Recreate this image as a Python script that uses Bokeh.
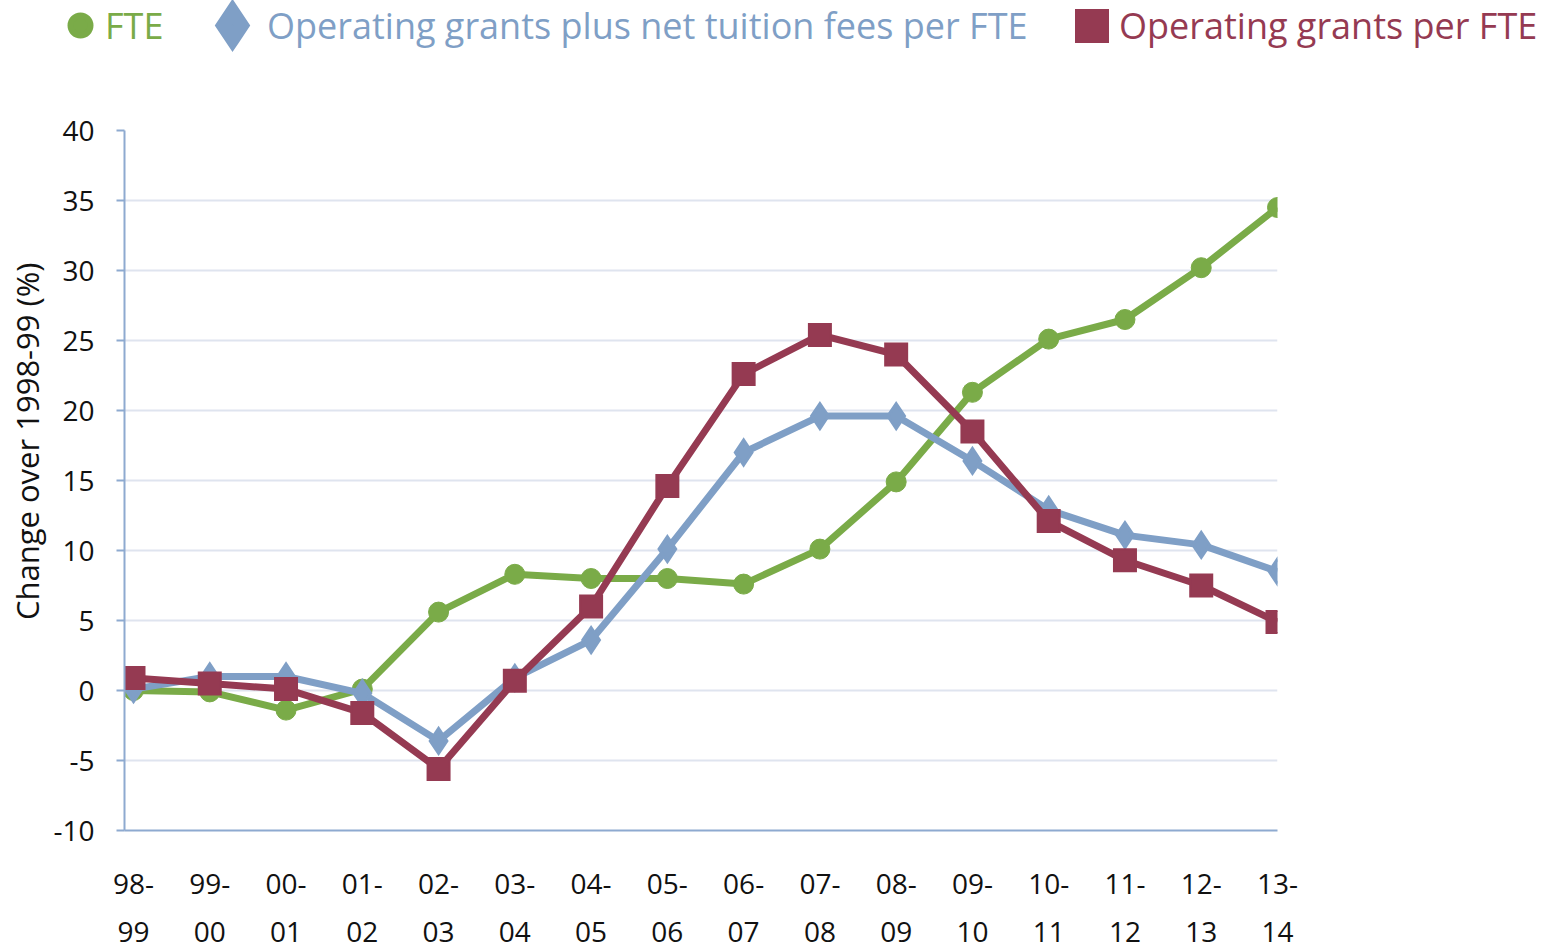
from bokeh.plotting import figure
from bokeh.layouts import column, row
from bokeh.models import Range1d, Legend, LegendItem, FixedTicker, Title
from bokeh.embed import file_html
from bokeh.resources import INLINE

years = ["98-99", "99-00", "00-01", "01-02", "02-03", "03-04", "04-05", "05-06",
         "06-07", "07-08", "08-09", "09-10", "10-11", "11-12", "12-13", "13-14"]
fte = [0.0, -0.1, -1.4, 0.1, 5.6, 8.3, 8.0, 8.0, 7.6, 10.1, 14.9, 21.3, 25.1, 26.5, 30.2, 34.5]
grants_tuition = [0.1, 1.0, 1.0, -0.2, -3.6, 0.9, 3.6, 10.1, 17.0, 19.6, 19.6, 16.4, 12.9, 11.1, 10.4, 8.5]
grants = [0.9, 0.5, 0.1, -1.6, -5.6, 0.7, 6.0, 14.6, 22.6, 25.4, 24.0, 18.5, 12.1, 9.3, 7.5, 4.9]
y_ticks = [-10, -5, 0, 5, 10, 15, 20, 25, 30, 35, 40]
series_names = ["FTE", "Operating grants plus net tuition fees per FTE", "Operating grants per FTE"]

GREEN = "#7aab48"
BLUE = "#7f9fc6"
MAROON = "#953a52"
AXIS = "#8eaad0"
GRID = "#dfe4ef"
FONT = "Open Sans"

xs = list(range(len(years)))

# ---------------- main chart ----------------
p = figure(width=1546, height=842, output_backend="svg", toolbar_location=None,
           x_range=Range1d(-0.118, 15), y_range=Range1d(-10, 40),
           min_border_left=124, min_border_right=269, min_border_top=20, min_border_bottom=122)
p.outline_line_color = None
p.background_fill_color = "white"
p.border_fill_color = "white"

p.xgrid.grid_line_color = None
p.ygrid.grid_line_color = GRID
p.ygrid.grid_line_width = 2

p.yaxis.ticker = FixedTicker(ticks=y_ticks)
p.yaxis.major_label_overrides = {t: str(t) for t in y_ticks}
p.yaxis.axis_line_color = AXIS
p.yaxis.axis_line_width = 2
p.yaxis.major_tick_line_color = AXIS
p.yaxis.major_tick_line_width = 2
p.yaxis.major_tick_out = 8
p.yaxis.major_tick_in = 0
p.yaxis.minor_tick_line_color = None
p.yaxis.major_label_standoff = 22
p.yaxis.major_label_text_font = FONT
p.yaxis.major_label_text_font_size = "28px"
p.yaxis.major_label_text_color = "#111111"

p.xaxis.ticker = FixedTicker(ticks=xs)
p.xaxis.major_label_overrides = {i: y.replace("-", "-\n") for i, y in enumerate(years)}
p.xaxis.axis_line_color = AXIS
p.xaxis.axis_line_width = 2
p.xaxis.major_tick_line_color = None
p.xaxis.minor_tick_line_color = None
p.xaxis.major_tick_out = 0
p.xaxis.major_tick_in = 0
p.xaxis.major_label_standoff = 33
p.xaxis.major_label_text_font = FONT
p.xaxis.major_label_text_font_size = "28px"
p.xaxis.major_label_text_color = "#111111"
p.xaxis.major_label_text_line_height = 1.27

p.add_layout(Title(text="Change over 1998-99 (%)", align="right", offset=132, standoff=6,
                   text_font=FONT, text_font_size="31px", text_font_style="normal",
                   text_color="#111111"), "left")

p.line(xs, fte, line_color=GREEN, line_width=7)
p.scatter(xs, fte, marker="circle", size=20, fill_color=GREEN, line_color=GREEN)
p.line(xs, grants_tuition, line_color=BLUE, line_width=7)
p.scatter(xs, grants_tuition, marker="diamond", size=25, fill_color=BLUE, line_color=BLUE,
          line_width=3, line_join="miter")
p.line(xs, grants, line_color=MAROON, line_width=7)
p.scatter(xs, grants, marker="square", size=22, fill_color=MAROON, line_color=MAROON,
          line_width=2, line_join="miter")

# ---------------- legend strip ----------------
# legend proxies: same series, but the strip's ranges keep the points off-screen
lg = figure(width=1546, height=110, output_backend="svg", toolbar_location=None,
            x_axis_location=None, y_axis_location=None, min_border=0,
            x_range=Range1d(100, 101), y_range=Range1d(100, 101))
lg.outline_line_color = None
lg.grid.grid_line_color = None
lg.border_fill_color = "white"
lg.background_fill_color = "white"

k_fte = lg.scatter(xs, fte, marker="circle", fill_color=GREEN, line_color=GREEN, line_width=6)
k_gt = lg.scatter(xs, grants_tuition, marker="diamond", fill_color=BLUE, line_color=BLUE,
                  line_width=14, line_join="miter")
k_g = lg.scatter(xs, grants, marker="square", fill_color=MAROON, line_color=MAROON,
                 line_width=12, line_join="miter")


def make_legend(label, renderer, color, box, loc):
    leg = Legend(items=[LegendItem(label=label, renderers=[renderer], index=0)],
                 location=loc, orientation="horizontal",
                 glyph_width=box, glyph_height=box, label_standoff=0,
                 padding=0, margin=0, spacing=0,
                 border_line_color=None, background_fill_alpha=0,
                 label_text_color=color, label_text_font=FONT,
                 label_text_font_size="36px")
    lg.add_layout(leg, "center")


# (x of glyph box left, y of legend bottom) within the strip, y measured from the strip's bottom
make_legend(series_names[0], k_fte, GREEN, 50, (55, 60))
make_legend(series_names[1], k_gt, BLUE, 70, (197, 50))
make_legend(series_names[2], k_g, MAROON, 55, (1064, 57))

layout = column(row(lg), p, spacing=0)
open("out.html", "w").write(file_html(layout, INLINE))
